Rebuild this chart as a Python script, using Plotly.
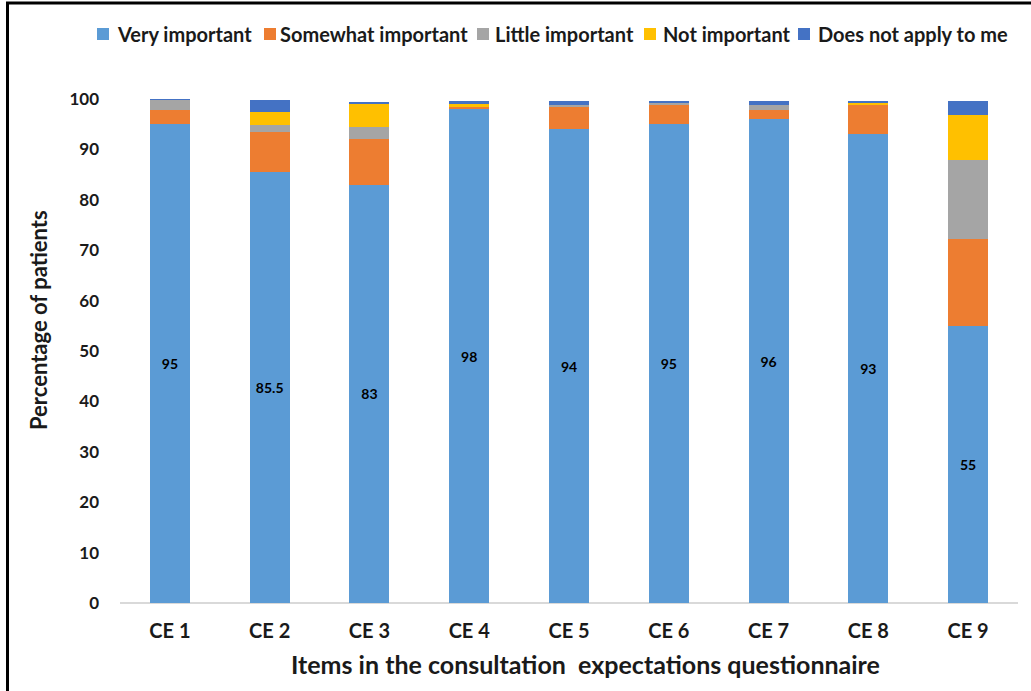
import plotly.graph_objects as go

categories = ["CE 1", "CE 2", "CE 3", "CE 4", "CE 5", "CE 6", "CE 7", "CE 8", "CE 9"]
very_important = [95, 85.5, 83, 98, 94, 95, 96, 93, 55]
somewhat_important = [2.8, 8, 9, 0.5, 4.5, 3.8, 1.8, 5.8, 17.3]
little_important = [2.1, 1.4, 2.5, 0, 0.4, 0.5, 1.1, 0, 15.5]
not_important = [0, 2.5, 4.5, 0.5, 0, 0, 0, 0.5, 9]
does_not_apply = [0.2, 2.4, 0.5, 0.7, 0.8, 0.4, 0.8, 0.3, 2.9]
very_labels = ["95", "85.5", "83", "98", "94", "95", "96", "93", "55"]
y_ticks = [0, 10, 20, 30, 40, 50, 60, 70, 80, 90, 100]
series_names = ["Very important", "Somewhat important", "Little important",
                "Not important", "Does not apply to me"]
series_colors = ["#5B9BD5", "#ED7D31", "#A5A5A5", "#FFC000", "#4472C4"]
series_values = [very_important, somewhat_important, little_important,
                 not_important, does_not_apply]
x_title = "Items in the consultation  expectations questionnaire"
y_title = "Percentage of patients"

FONT = "Lato, 'Open Sans', sans-serif"
TXT = "#1a1a1a"

W, H = 1031, 691
ML, MR, MT, MB = 120, 13, 99, 88
PW, PH = W - ML - MR, H - MT - MB


def px_x(px):
    return (px - ML) / PW


def px_y(py):
    return (H - MB - py) / PH


fig = go.Figure()
for i, (name, vals, color) in enumerate(zip(series_names, series_values, series_colors)):
    kw = {}
    if i == 0:
        kw = dict(text=very_labels, textposition="inside", insidetextanchor="middle",
                  textfont=dict(family=FONT, size=14, color="black", weight="bold"),
                  textangle=0)
    fig.add_trace(go.Bar(name=name, x=categories, y=vals,
                         marker=dict(color=color, line=dict(width=0)),
                         hoverinfo="skip", showlegend=False, **kw))

fig.update_layout(
    barmode="stack",
    bargap=0.6,
    width=W, height=H,
    paper_bgcolor="white", plot_bgcolor="white",
    margin=dict(l=ML, r=MR, t=MT, b=MB),
    font=dict(family=FONT, color=TXT),
    showlegend=False,
    xaxis=dict(showgrid=False, showline=False, ticks="",
               tickfont=dict(family=FONT, size=20, weight="bold", color=TXT),
               ticklabelstandoff=14),
    yaxis=dict(range=[0, 100], tickvals=y_ticks, showgrid=False, zeroline=True,
               zerolinecolor="#D9D9D9", zerolinewidth=1.5, ticks="",
               tickfont=dict(family=FONT, size=17, weight="bold", color=TXT),
               ticklabelstandoff=20),
)

# axis titles
fig.add_annotation(xref="paper", yref="paper", x=px_x(585), y=px_y(664),
                   xanchor="center", yanchor="middle", showarrow=False, text=x_title,
                   font=dict(family=FONT, size=25, weight="bold", color=TXT))
fig.add_annotation(xref="paper", yref="paper", x=px_x(38), y=px_y(320),
                   xanchor="center", yanchor="middle", showarrow=False, text=y_title,
                   textangle=-90,
                   font=dict(family=FONT, size=22, weight="bold", color=TXT))

# legend drawn as squares + text (positions in pixels of the figure)
legend_square_px = [97, 264, 477, 644, 798]
legend_text_px = [115, 278, 493, 661, 816]
for name, color, sx, tx in zip(series_names, series_colors, legend_square_px, legend_text_px):
    fig.add_shape(type="rect", xref="paper", yref="paper",
                  x0=px_x(sx), x1=px_x(sx + 12), y0=px_y(40), y1=px_y(28),
                  fillcolor=color, line=dict(width=0))
    fig.add_annotation(xref="paper", yref="paper", x=px_x(tx), y=px_y(34),
                       xanchor="left", yanchor="middle", showarrow=False, text=name,
                       font=dict(family=FONT, size=20, weight="bold", color=TXT))

# outer frame edges (top and left) of the original figure crop
fig.add_shape(type="line", xref="paper", yref="paper",
              x0=px_x(7.5), x1=px_x(7.5), y0=px_y(H + 5), y1=px_y(2.5),
              line=dict(color="black", width=3))
fig.add_shape(type="line", xref="paper", yref="paper",
              x0=px_x(6), x1=px_x(W + 5), y0=px_y(3), y1=px_y(3),
              line=dict(color="black", width=3))

fig.write_html("out.html")
